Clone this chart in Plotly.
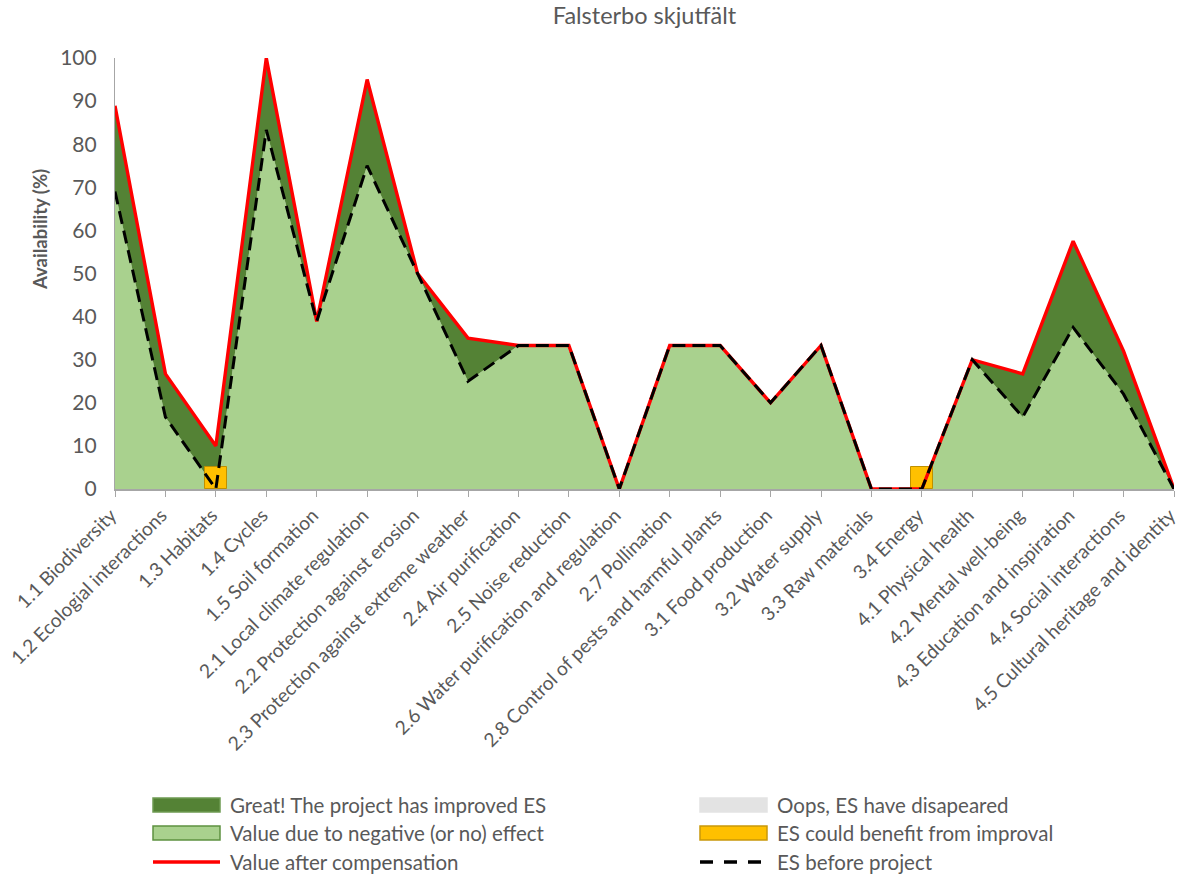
import plotly.graph_objects as go

categories = [
    "1.1 Biodiversity", "1.2 Ecologial interactions", "1.3 Habitats", "1.4 Cycles",
    "1.5 Soil formation", "2.1 Local climate regulation", "2.2 Protection against erosion",
    "2.3 Protection against extreme weather", "2.4 Air purification", "2.5 Noise reduction",
    "2.6 Water purification and regulation", "2.7 Pollination",
    "2.8 Control of pests and harmful plants", "3.1 Food production", "3.2 Water supply",
    "3.3 Raw materials", "3.4 Energy", "4.1 Physical health", "4.2 Mental well-being",
    "4.3 Education and inspiration", "4.4 Social interactions",
    "4.5 Cultural heritage and identity",
]
after_compensation = [88.9, 26.7, 10, 100, 38.9, 95, 50, 35, 33.3, 33.3, 0, 33.3, 33.3,
                      20, 33.3, 0, 0, 30, 26.7, 57.5, 32, 0]
before_project = [69, 16.7, 0, 83.3, 38.9, 75, 50, 25, 33.3, 33.3, 0, 33.3, 33.3,
                  20, 33.3, 0, 0, 30, 16.7, 37.5, 22, 0]
could_benefit = [None, None, 5, None, None, None, None, None, None, None, None, None,
                 None, None, None, None, 5, None, None, None, None, None]

FONT = "Lato"
GREY = "#595959"
DARK_GREEN = "#548235"
LIGHT_GREEN = "#A9D18E"
ORANGE = "#FFC000"
xs = list(range(len(categories)))

# plot-area geometry in pixels, used to place the hand-built legend
W, H = 1181, 876
M_L, M_R, M_T, M_B = 115, 7, 58, 387
PW, PH = W - M_L - M_R, H - M_T - M_B


def px_x(p):
    return (p - M_L) / PW


def px_y(p):
    return (H - M_B - p) / PH


fig = go.Figure()

# Base area: value before / without positive effect
fig.add_trace(go.Scatter(
    x=xs, y=before_project, mode="none", fill="tozeroy", fillcolor=LIGHT_GREEN,
    name="Value due to negative (or no) effect", showlegend=False,
))
# Improvement area between "before" and "after"
fig.add_trace(go.Scatter(
    x=xs, y=after_compensation, mode="none", fill="tonexty", fillcolor=DARK_GREEN,
    name="Great! The project has improved ES", showlegend=False,
))

# Upper layer: markers for ES that could benefit, plus the outline lines
fig.add_trace(go.Bar(
    x=xs, y=could_benefit, width=0.43, xaxis="x2", yaxis="y2",
    marker=dict(color=ORANGE, line=dict(color="#BF9000", width=1)),
    name="ES could benefit from improval", showlegend=False,
))
fig.add_trace(go.Scatter(
    x=xs, y=after_compensation, mode="lines", xaxis="x2", yaxis="y2",
    line=dict(color="#FF0000", width=3.4), cliponaxis=False,
    name="Value after compensation", showlegend=False,
))
fig.add_trace(go.Scatter(
    x=xs, y=before_project, mode="lines", xaxis="x2", yaxis="y2",
    line=dict(color="#000000", width=3, dash="13px,7px"), cliponaxis=False,
    name="ES before project", showlegend=False,
))

# Legend: two columns of keys below the chart
legend_items = [
    # (left px, centre y px, kind, fill, border, label)
    (153, 805, "box", DARK_GREEN, "#6E9A52", "Great! The project has improved ES"),
    (700, 805, "box", "#E3E3E3", "#E3E3E3", "Oops, ES have disapeared"),
    (153, 833, "box", LIGHT_GREEN, "#5E9140", "Value due to negative (or no) effect"),
    (700, 833, "box", ORANGE, "#C9980A", "ES could benefit from improval"),
    (153, 862, "line", "#FF0000", "solid", "Value after compensation"),
    (700, 862, "line", "#000000", "13px,11px", "ES before project"),
]
shapes = []
annotations = []
for left, cy, kind, col, extra, label in legend_items:
    if kind == "box":
        shapes.append(dict(
            type="rect", xref="paper", yref="paper",
            x0=px_x(left), x1=px_x(left + 67), y0=px_y(cy + 7), y1=px_y(cy - 7),
            fillcolor=col, line=dict(color=extra, width=1.5), layer="above",
        ))
    else:
        shapes.append(dict(
            type="line", xref="paper", yref="paper",
            x0=px_x(left), x1=px_x(left + 67), y0=px_y(cy), y1=px_y(cy),
            line=dict(color=col, width=3.5, dash=extra), layer="above",
        ))
    annotations.append(dict(
        text=label, xref="paper", yref="paper", x=px_x(left + 75), y=px_y(cy),
        xanchor="left", yanchor="middle", showarrow=False,
        font=dict(family=FONT, size=20.5, color=GREY),
    ))

# Y-axis title
annotations.append(dict(
    text="<b>Availability (%)</b>", xref="paper", yref="paper",
    x=px_x(40), y=px_y(230), xanchor="center", yanchor="middle", textangle=-90,
    showarrow=False, font=dict(family=FONT, size=18.5, color=GREY),
))

fig.update_layout(
    width=W, height=H,
    margin=dict(l=M_L, r=M_R, t=M_T, b=M_B),
    paper_bgcolor="white", plot_bgcolor="white",
    font=dict(family=FONT, color=GREY, size=20),
    title=dict(text="Falsterbo skjutfält", x=0.5, xref="paper", y=0.991, yanchor="top",
               font=dict(family=FONT, size=23.5, color=GREY)),
    xaxis=dict(
        range=[0, len(categories) - 1], tickmode="array", tickvals=xs, ticktext=categories,
        tickangle=-45, showgrid=False, zeroline=False, showline=True,
        linecolor="#A6A6A6", linewidth=1.5, ticks="outside", ticklen=6,
        tickcolor="#A6A6A6", tickfont=dict(size=19.2, color=GREY), automargin=False,
        ticklabeloverflow="allow", ticklabelshift=-4,
    ),
    yaxis=dict(
        range=[0, 100], dtick=10, showgrid=False, zeroline=False, showline=True,
        linecolor="#A6A6A6", linewidth=1.2, ticks="", tickfont=dict(size=21, color=GREY),
        ticklabelstandoff=13, automargin=False,
    ),
    xaxis2=dict(overlaying="x", matches="x", visible=False),
    yaxis2=dict(overlaying="y", matches="y", visible=False),
    showlegend=False,
    shapes=shapes,
    annotations=annotations,
    bargap=0,
)

fig.write_html("out.html")
